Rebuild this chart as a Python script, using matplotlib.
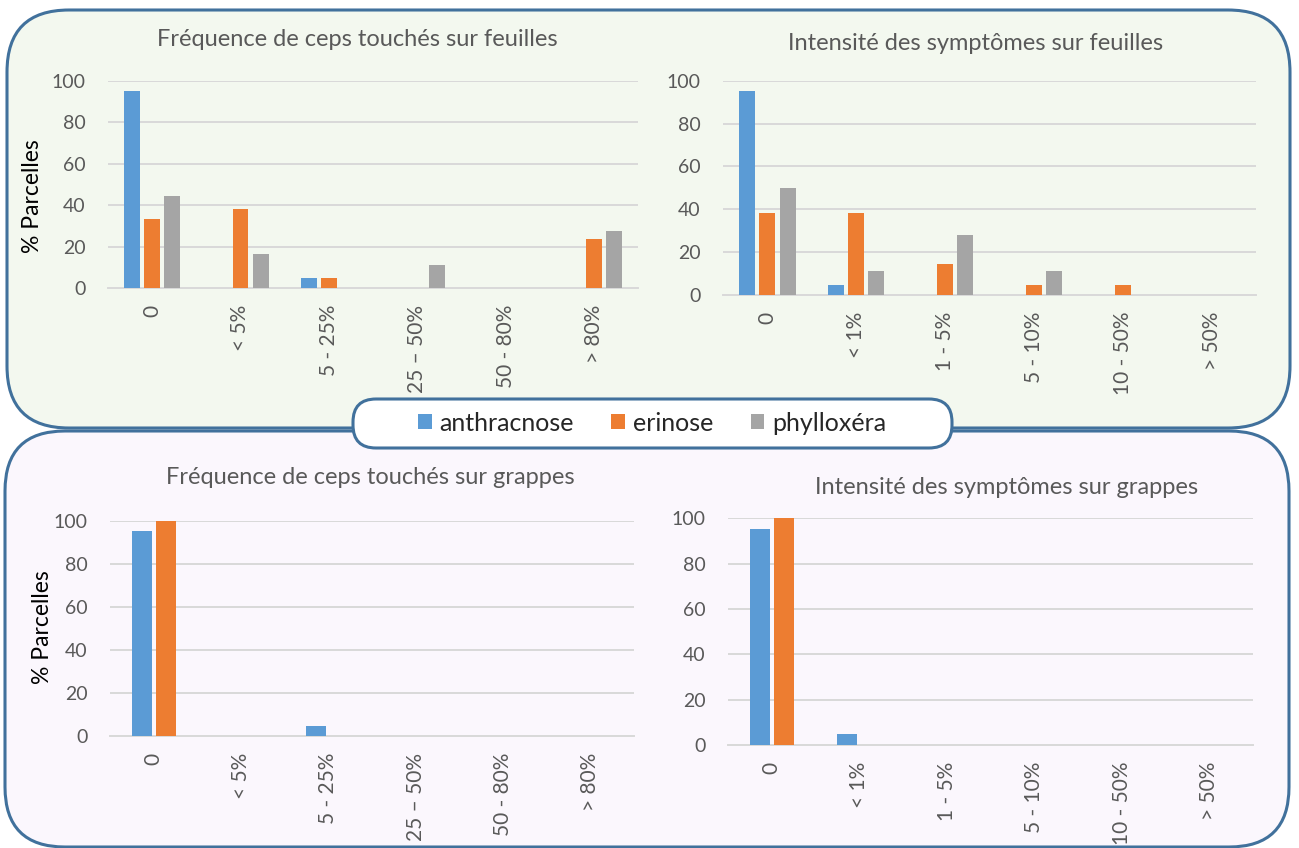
import matplotlib
matplotlib.use("Agg")
import matplotlib.pyplot as plt
from matplotlib.patches import FancyBboxPatch, Patch

plt.rcParams['font.family'] = ['Lato', 'DejaVu Sans']

# Data
freq_cats = ["0", "< 5%", "5 - 25%", "25 \u2013 50%", "50 - 80%", "> 80%"]
int_cats = ["0", "< 1%", "1 - 5%", "5 - 10%", "10 - 50%", "> 50%"]
series = ["anthracnose", "erinose", "phylloxéra"]
colors = ["#5B9BD5", "#ED7D31", "#A5A5A5"]

# leaves, frequency
ff_anthr = [95.2, 0, 4.8, 0, 0, 0]
ff_erin = [33.3, 38.1, 4.8, 0, 0, 23.8]
ff_phyl = [44.4, 16.7, 0, 11.1, 0, 27.8]
# leaves, intensity
fi_anthr = [95.2, 4.8, 0, 0, 0, 0]
fi_erin = [38.1, 38.1, 14.3, 4.8, 4.8, 0]
fi_phyl = [50.0, 11.1, 27.8, 11.1, 0, 0]
# bunches, frequency
gf_anthr = [95.2, 0, 4.8, 0, 0, 0]
gf_erin = [100, 0, 0, 0, 0, 0]
# bunches, intensity
gi_anthr = [95.2, 4.8, 0, 0, 0, 0]
gi_erin = [100, 0, 0, 0, 0, 0]

W, H = 1299, 848
fig = plt.figure(figsize=(W / 100, H / 100), dpi=100)
fig.patch.set_facecolor("white")

# background panels, drawn in pixel units
bg = fig.add_axes([0, 0, 1, 1])
bg.set_xlim(0, W)
bg.set_ylim(H, 0)
bg.axis("off")
border = "#41719C"
bg.add_patch(FancyBboxPatch((7 + 62, 10 + 62), 1283 - 124, 418 - 124,
                            boxstyle="round,pad=62", fc="#F3F8EF", ec=border, lw=2.2))
bg.add_patch(FancyBboxPatch((5 + 60, 431 + 60), 1284 - 120, 416 - 120,
                            boxstyle="round,pad=60", fc="#FBF7FD", ec=border, lw=2.2))
bg.add_patch(FancyBboxPatch((353 + 23, 399 + 23), 599 - 46, 49 - 46,
                            boxstyle="round,pad=23", fc="white", ec=border, lw=2.2))


def px_axes(x0, x1, ytop, ybot):
    return fig.add_axes([x0 / W, 1 - ybot / H, (x1 - x0) / W, (ybot - ytop) / H])


def draw(ax, cats, data, width, offsets):
    x = range(len(cats))
    for vals, col, off in zip(data, colors, offsets):
        ax.bar([i + off for i in x], vals, width=width, color=col, lw=0, zorder=3)
    ax.set_xlim(-0.5, len(cats) - 0.5)
    ax.set_ylim(0, 100)
    ax.set_yticks([0, 20, 40, 60, 80, 100])
    ax.set_xticks(list(x))
    ax.set_xticklabels(cats, rotation=90)
    ax.patch.set_alpha(0)
    ax.grid(axis="y", color="#D9D9D9", lw=1.4, zorder=0)
    for s in ["top", "right", "left"]:
        ax.spines[s].set_visible(False)
    ax.spines["bottom"].set_color("#D9D9D9")
    ax.spines["bottom"].set_linewidth(1.4)
    ax.tick_params(axis="both", length=0, labelcolor="#595959")
    ax.tick_params(axis="y", pad=16, labelsize=14)
    ax.tick_params(axis="x", pad=12, labelsize=15)


ax1 = px_axes(108, 638, 80.7, 288.3)
draw(ax1, freq_cats, [ff_anthr, ff_erin, ff_phyl], 0.18, [-0.227, 0, 0.227])
ax2 = px_axes(723, 1256, 80.7, 295)
draw(ax2, int_cats, [fi_anthr, fi_erin, fi_phyl], 0.18, [-0.227, 0, 0.227])
ax3 = px_axes(110, 634, 520.7, 736)
draw(ax3, freq_cats, [gf_anthr, gf_erin], 0.23, [-0.137, 0.137])
ax4 = px_axes(728, 1253, 518.3, 745)
draw(ax4, int_cats, [gi_anthr, gi_erin], 0.23, [-0.137, 0.137])

title_col = "#595959"
bg.text(357, 40, "Fréquence de ceps touchés sur feuilles", ha="center", va="center",
        fontsize=17, color=title_col)
bg.text(976, 43, "Intensité des symptômes sur feuilles", ha="center", va="center",
        fontsize=17, color=title_col)
bg.text(370, 477, "Fréquence de ceps touchés sur grappes", ha="center", va="center",
        fontsize=17, color=title_col)
bg.text(1007, 487, "Intensité des symptômes sur grappes", ha="center", va="center",
        fontsize=17, color=title_col)

bg.text(33, 196, "% Parcelles", rotation=90, ha="center", va="center", fontsize=16.5, color="black")
bg.text(43, 627, "% Parcelles", rotation=90, ha="center", va="center", fontsize=16.5, color="black")

handles = [Patch(facecolor=c, edgecolor="none") for c in colors]
fig.legend(handles, series, loc="center", bbox_to_anchor=(652 / W, 1 - 423 / H),
           ncol=3, frameon=False, fontsize=18, handlelength=0.55, handleheight=0.55,
           handletextpad=0.3, columnspacing=1.5, labelcolor="#262626")

fig.savefig("out.png", dpi=100)
